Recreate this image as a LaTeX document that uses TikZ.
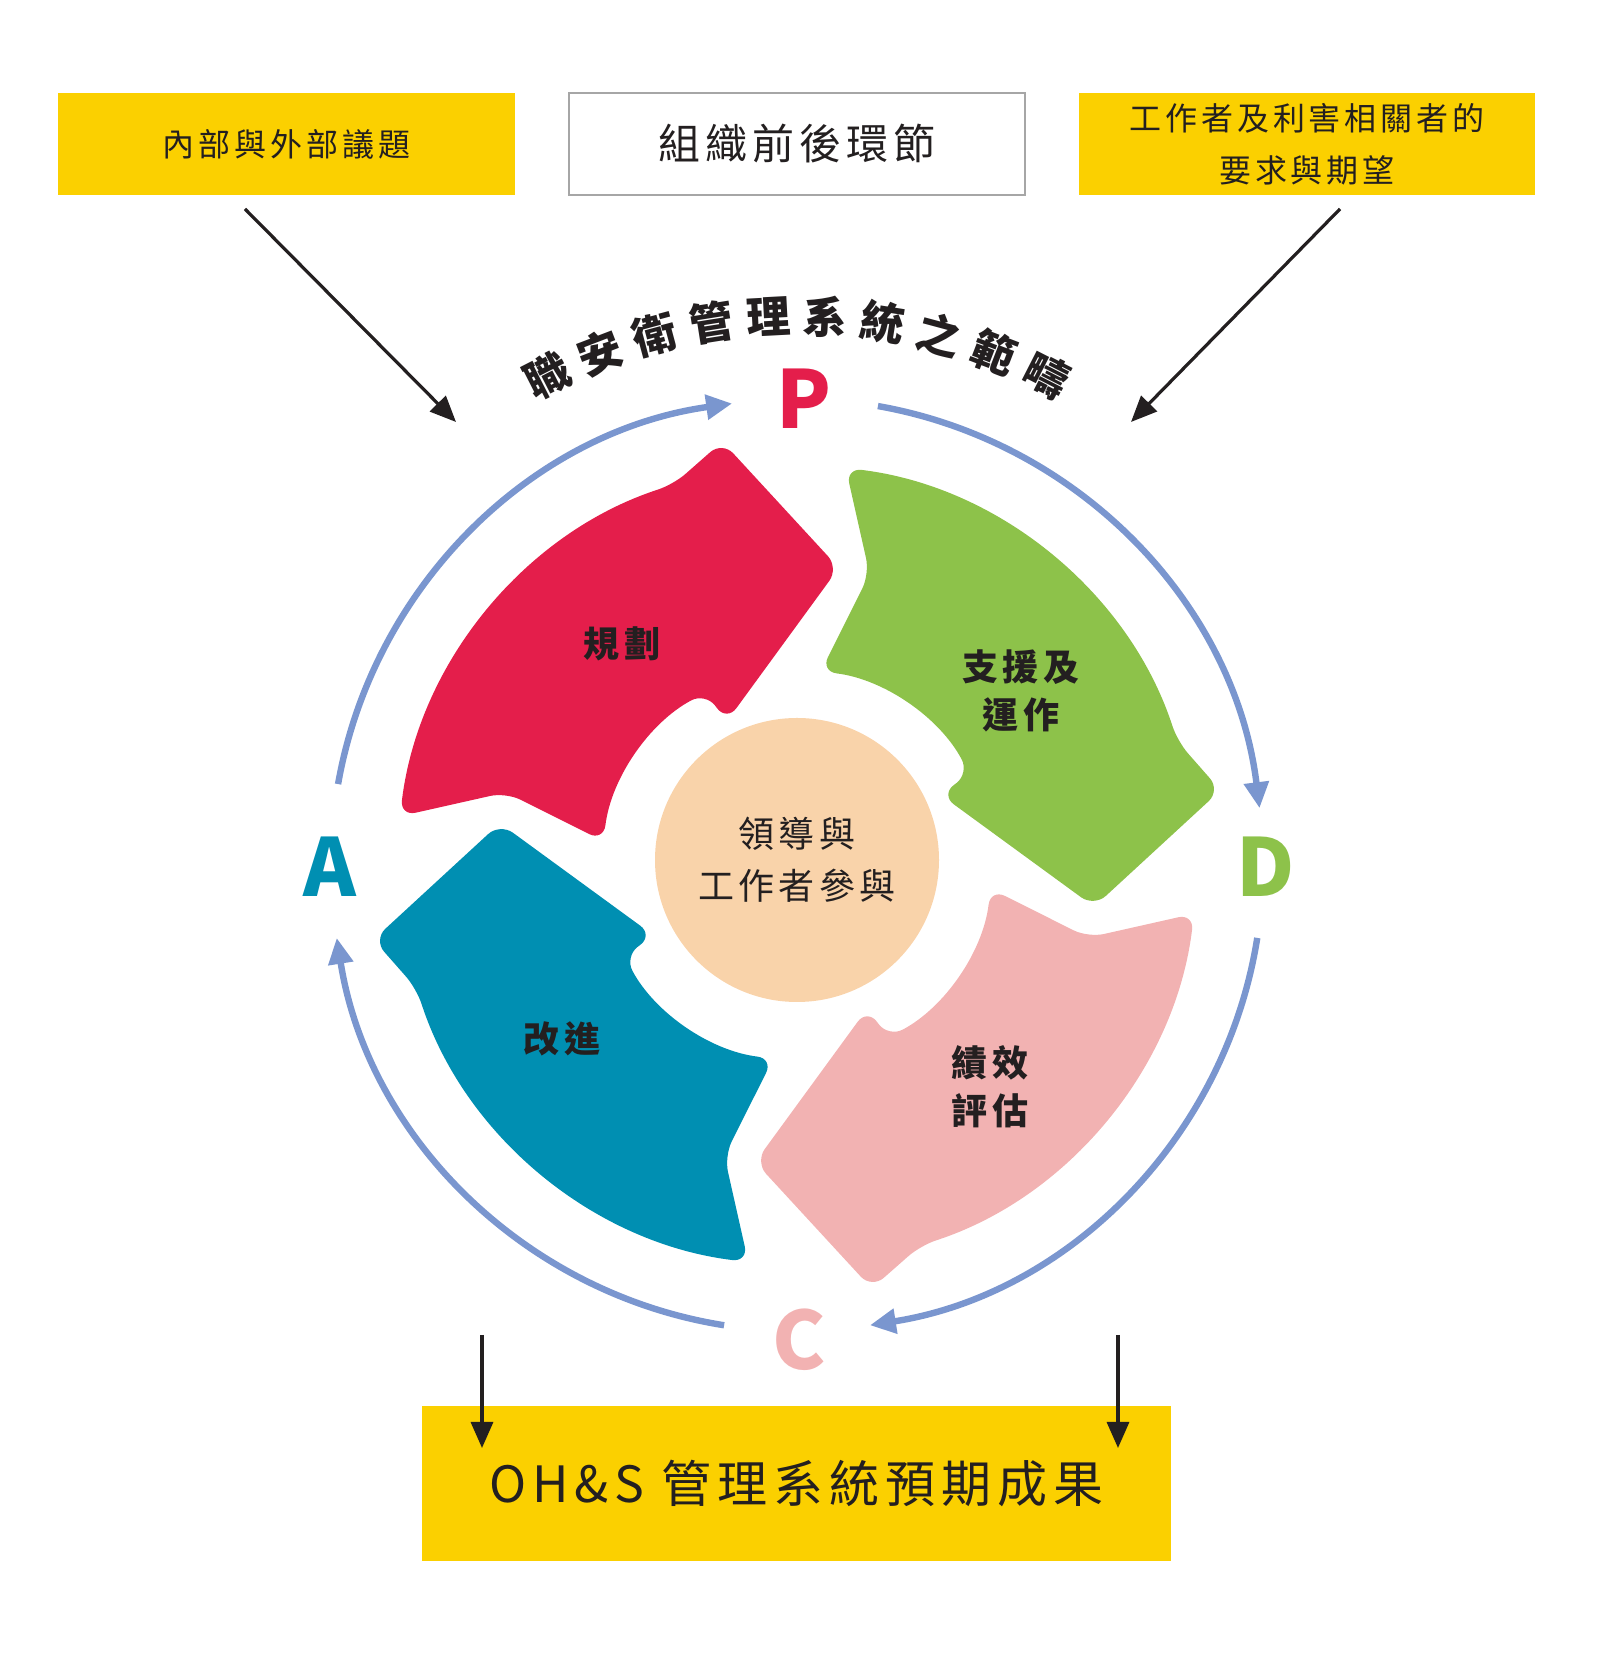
\documentclass[tikz,border=0pt]{standalone}
\usepackage{fontspec}
\setmainfont{Noto Sans CJK TC}
\setsansfont{Noto Sans CJK TC}
\usetikzlibrary{arrows.meta}
\definecolor{boxyellow}{RGB}{251,208,0}
\definecolor{ringblue}{RGB}{122,150,207}
\definecolor{planred}{RGB}{228,30,75}
\definecolor{dogreen}{RGB}{141,194,74}
\definecolor{checkpink}{RGB}{242,178,178}
\definecolor{actteal}{RGB}{0,143,178}
\definecolor{corepeach}{RGB}{249,211,170}
\definecolor{inkdark}{RGB}{35,31,32}
\newcommand{\spaced}{\addfontfeature{LetterSpace=12}}
\tikzset{
  yellowbox/.style={fill=boxyellow,minimum height=51pt,text=inkdark,align=center},
  ringarrow/.style={ringblue,line width=3.2pt,-{Triangle[length=13pt,width=12pt]}},
  blackarrow/.style={inkdark,line width=1.6pt,-{Triangle[length=13pt,width=11pt]}},
  phase/.style={font=\fontsize{18pt}{24pt}\selectfont\bfseries\spaced,text=inkdark,align=center},
  letter/.style={font=\fontsize{40pt}{40pt}\selectfont\bfseries}
}
\begin{document}
\begin{tikzpicture}[x=0.5pt,y=0.5pt]
\useasboundingbox (0,0) rectangle (1600,1655);

% top boxes
\node [yellowbox,minimum width=228.5pt,font=\fontsize{16pt}{20pt}\selectfont\spaced] (issues) at (286.5,1511) {內部與外部議題};
\node [draw=gray!70,line width=1pt,minimum width=228pt,minimum height=51pt,font=\fontsize{21pt}{24pt}\selectfont\spaced,text=inkdark] (context) at (797,1511) {組織前後環節};
\node [yellowbox,minimum width=228pt,font=\fontsize{16pt}{26pt}\selectfont\spaced] (needs) at (1307,1511) {工作者及利害相關者的\\要求與期望};

% bottom box
\node [yellowbox,minimum width=374.5pt,minimum height=77.5pt,font=\fontsize{25pt}{28pt}\selectfont\spaced] (outcome) at (796.5,171.5) {OH\&S 管理系統預期成果};

% black arrows
\coordinate (inL) at (245,1446);  \coordinate (inLend) at (456,1233);
\coordinate (inR) at (1340,1446); \coordinate (inRend) at (1131,1233);
\coordinate (outL) at (482,320);  \coordinate (outLend) at (482,207);
\coordinate (outR) at (1118,320); \coordinate (outRend) at (1118,207);
\draw [blackarrow] (inL) -- (inLend);
\draw [blackarrow] (inR) -- (inRend);
\draw [blackarrow] (outL) -- (outLend);
\draw [blackarrow] (outR) -- (outRend);

\coordinate (ctr) at (797,790);

% PDCA ring
\begin{scope}[shift={(ctr)}]
\draw [ringarrow] (170:466) arc[start angle=170,end angle=98,radius=466];
\draw [ringarrow] (80:466) arc[start angle=80,end angle=7,radius=466];
\draw [ringarrow] (-9:466) arc[start angle=-9,end angle=-81,radius=466];
\draw [ringarrow] (-99:466) arc[start angle=-99,end angle=-171,radius=466];

% curved arrows
\foreach \rot/\col in {0/planred,-90/dogreen,-180/checkpink,-270/actteal}{
  \fill [\col,rotate=\rot,rounded corners=8pt]
    (173:400) arc[start angle=173,end angle=108,radius=400]
    -- (100:430) -- (82:300) -- (116:160) -- (118:195)
    arc[start angle=118,end angle=173,radius=195]
    -- (166:300) -- cycle;
}

% core
\node [circle,fill=corepeach,minimum size=142pt,phase,font=\fontsize{18pt}{26pt}\selectfont\spaced] (core) at (0,5) {領導與\\工作者參與};

% scope title
\foreach \ch [count=\i from 0] in {職,安,衛,管,理,系,統,之,範,疇}{
  \node [font=\fontsize{22pt}{22pt}\selectfont\bfseries,text=inkdark,inner sep=0pt,rotate={117-6*\i-90}] (t\i) at ({117-6*\i}:549) {\ch};
}
\end{scope}

\node [letter,text=planred] (pP) at (804,1256) {P};
\node [letter,text=dogreen] (pD) at (1266,788) {D};
\node [letter,text=checkpink] (pC) at (799,315) {C};
\node [letter,text=actteal] (pA) at (330,788) {A};

\node [phase] (plan) at (622,1011) {規劃};
\node [phase] (support) at (1021,964) {支援及\\運作};
\node [phase] (perf) at (990,568) {績效\\評估};
\node [phase] (improve) at (562,616) {改進};
\end{tikzpicture}
\end{document}
